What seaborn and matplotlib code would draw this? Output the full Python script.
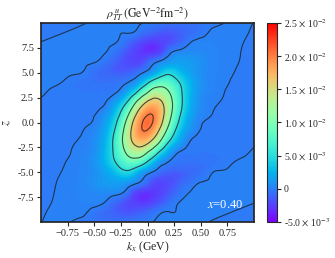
import numpy as np
import seaborn as sns
import matplotlib.pyplot as plt
import matplotlib.tri as mtri

# grid, rho in units of 1e-4
kx_vals = [-1, -.9, -.8, -.7, -.6, -.5, -.4, -.3, -.2, -.15, -.1, -.05, 0,
           .05, .1, .15, .2, .3, .4, .5, .6, .7, .8, .9, 1]
z_vals = [-10, -9, -8, -7, -6, -5, -4, -3, -2, -1, -.5, 0, .5, 1, 2, 3, 4, 5, 6, 7, 8, 9, 10]
rho_rows = [
    [-.05, .5, .6, -.2, -1.5, -3.5, -5.5, -6.5, -6, -5, -4, -3, -1.5, .04, .23, .37, .47, .56, .49, .26, -.13, -.7, -1.4, -2.3, -3.3],
    [-.5, .5, 1.2, 1.2, 1, -3, -8, -13, -17, -17, -15, -13, -10, -7, -3, -.05, .19, .55, .75, .79, .67, .39, -.05, -.65, -1.4],
    [-1, 0, 1, 1.8, 2.6, 3, 0, -10, -19, -24, -27, -29, -28, -24, -19, -14, -8, .06, .55, .89, 1.07, 1.08, .94, .63, .17],
    [-1.25, -.25, .75, 2, 3.4, 5, 6, 5, -4, -16, -25, -29, -30, -29, -26, -22, -17, -6, .14, .74, 1.18, 1.46, 1.6, 1.5, 1.3],
    [-1.5, -.5, .5, 1.5, 4, 8, 13, 15, 12, 8, 3, -3, -11, -20, -23, -22, -20, -13, -5, 0, .73, 1.3, 1.7, 2, 2],
    [-1.4, -.9, .1, 1.1, 3.6, 7, 16, 30, 44, 38, 25, 13, 5, -1, -7, -11, -13, -13, -10, -6, -.5, .5, 1.2, 1.8, 2.2],
    [-1.2, -1.25, -.25, .75, 3.6, 9, 24, 50, 76, 82, 78, 65, 46, 28, 12, 4, -1, -4.5, -5.5, -5, -3.6, -1.8, -.15, .7, 1.4],
    [-1, -1.4, -.7, .3, 2.6, 7.4, 25, 60, 103, 119, 126, 122, 100, 78, 52, 33, 16, -.5, -2.4, -2.6, -2.3, -1.8, -1.1, -.4, .38],
    [-.9, -1.4, -1.2, -.2, 1, 6.3, 23.6, 63, 120, 146, 163, 167, 157, 135, 107, 75, 48, 15, -.4, -1.1, -1.2, -1.1, -.9, -.6, -.3],
    [-.7, -1.3, -1.6, -.8, .2, 4.6, 19, 57, 120, 154, 181, 196, 194, 177, 148, 113, 80, 30, 6, -.6, -.9, -.7, -.6, -.4, -.2],
    [-.6, -1.2, -1.6, -1.3, -.3, 3, 16, 51, 114, 150, 181, 201, 204, 191, 164, 129, 93, 37.8, 10.8, .2, -1, -.6, -.5, -.3, -.2],
    [-.5, -1, -1.5, -1.5, -1, 1, 13.6, 45, 105, 142, 175, 199, 208, 199, 175, 142, 105, 45, 13.6, 1, -1, -1.5, -1.5, -1, -.5],
    [-.2, -.3, -.5, -.6, -1, .2, 10.8, 37.8, 93, 129, 164, 191, 204, 201, 181, 150, 114, 51, 16, 3, -.3, -1.3, -1.6, -1.2, -.6],
    [-.2, -.4, -.6, -.7, -.9, -.6, 6, 30, 80, 113, 148, 177, 194, 196, 181, 154, 120, 57, 19, 4.6, .2, -.8, -1.6, -1.3, -.7],
    [-.3, -.6, -.9, -1.1, -1.2, -1.1, -.4, 15, 48, 75, 107, 135, 157, 167, 163, 146, 120, 63, 23.6, 6.3, 1, -.2, -1.2, -1.4, -.9],
    [.38, -.4, -1.1, -1.8, -2.3, -2.6, -2.4, -.5, 16, 33, 52, 78, 100, 122, 126, 119, 103, 60, 25, 7.4, 2.6, .3, -.7, -1.4, -1],
    [1.4, .7, -.15, -1.8, -3.6, -5, -5.5, -4.5, -1, 4, 12, 28, 46, 65, 78, 82, 76, 50, 24, 9, 3.6, .75, -.25, -1.25, -1.2],
    [2.2, 1.8, 1.2, .5, -.5, -6, -10, -13, -13, -11, -7, -1, 5, 13, 25, 38, 44, 30, 16, 7, 3.6, 1.1, .1, -.9, -1.4],
    [2, 2, 1.7, 1.3, .73, 0, -5, -13, -20, -22, -23, -20, -11, -3, 3, 8, 12, 15, 13, 8, 4, 1.5, .5, -.5, -1.5],
    [1.3, 1.5, 1.6, 1.46, 1.18, .74, .14, -6, -17, -22, -26, -29, -30, -29, -25, -16, -4, 5, 6, 5, 3.4, 2, .75, -.25, -1.25],
    [.17, .63, .94, 1.08, 1.07, .89, .55, .06, -8, -14, -19, -24, -28, -29, -27, -24, -19, -10, 0, 3, 2.6, 1.8, 1, 0, -1],
    [-1.4, -.65, -.05, .39, .67, .79, .75, .55, .19, -.05, -3, -7, -10, -13, -15, -17, -17, -13, -8, -3, 1, 1.2, 1.2, .5, -.5],
    [-3.3, -2.3, -1.4, -.7, -.13, .26, .49, .56, .47, .37, .23, .04, -1.5, -3, -4, -5, -6, -6.5, -5.5, -3.5, -1.5, -.2, .6, .5, -.05],
]
line_levels = [0, 0.005, 0.01, 0.015, 0.02]
x_ticks = [-0.75, -0.5, -0.25, 0, 0.25, 0.5, 0.75]
x_labels = ["\u22120.75", "\u22120.50", "\u22120.25", "0.00", "0.25", "0.50", "0.75"]
z_ticks = [-7.5, -5, -2.5, 0, 2.5, 5, 7.5]
z_labels = ["-7.5", "-5.0", "-2.5", "0.0", "2.5", "5.0", "7.5"]
cbar_ticks = [-0.005, 0, 0.005, 0.01, 0.015, 0.02, 0.025]
cbar_labels = [r"-5.0 $\times$ 10$^{-3}$", "0", r"5.0 $\times$ 10$^{-3}$", r"1.0 $\times$ 10$^{-2}$",
               r"1.5 $\times$ 10$^{-2}$", r"2.0 $\times$ 10$^{-2}$", r"2.5 $\times$ 10$^{-2}$"]

sns.set_theme(style="ticks")
plt.rcParams["font.family"] = ["Liberation Serif", "DejaVu Serif"]
plt.rcParams["mathtext.fontset"] = "stix"

rho = np.array(rho_rows) * 1e-4

fig = plt.figure(figsize=(3.35, 2.58), dpi=100)
ax = fig.add_axes([41 / 335, 36 / 258, 213 / 335, 199 / 258])
cax = fig.add_axes([267 / 335, 36 / 258, 10 / 335, 199 / 258])

# smooth contouring of the read grid with matplotlib's own refiner
kx_grid, z_grid = np.meshgrid(kx_vals, z_vals)
tri = mtri.Triangulation(kx_grid.ravel(), z_grid.ravel())
refiner = mtri.UniformTriRefiner(tri)
tri_fine, rho_fine = refiner.refine_field(rho.ravel(), subdiv=3)

cmap = sns.color_palette("rainbow", as_cmap=True)
cf = ax.tricontourf(tri_fine, rho_fine, levels=np.linspace(-0.005, 0.025, 121), cmap=cmap)
ax.tricontour(tri_fine, rho_fine, levels=line_levels, colors="k", linewidths=0.8, alpha=0.75)

ax.set_xlim(-1, 1)
ax.set_ylim(-10, 10)
ax.set_xticks(x_ticks, x_labels)
ax.set_yticks(z_ticks, z_labels)
ax.tick_params(labelsize=7.5, length=3, width=0.8, pad=2)
ax.set_xlabel(r"$k_x$ (GeV)", fontsize=8.5, labelpad=1)
ax.set_ylabel(r"$\bar{z}$", fontsize=9, labelpad=3)
ax.set_title(r"$\rho^{\,u}_{TT}\,(\mathrm{GeV}^{-2}\mathrm{fm}^{-2})$", fontsize=8.5, pad=3)
ax.text(0.73, -8.3, r"$x$=0.40", color="white", fontsize=9, ha="center", va="center")

cbar = fig.colorbar(cf, cax=cax)
cbar.set_ticks(cbar_ticks, labels=cbar_labels)
cbar.ax.tick_params(labelsize=7, length=3, width=0.8, pad=2)
cbar.outline.set_linewidth(0.8)

fig.savefig("out.png", dpi=100)
